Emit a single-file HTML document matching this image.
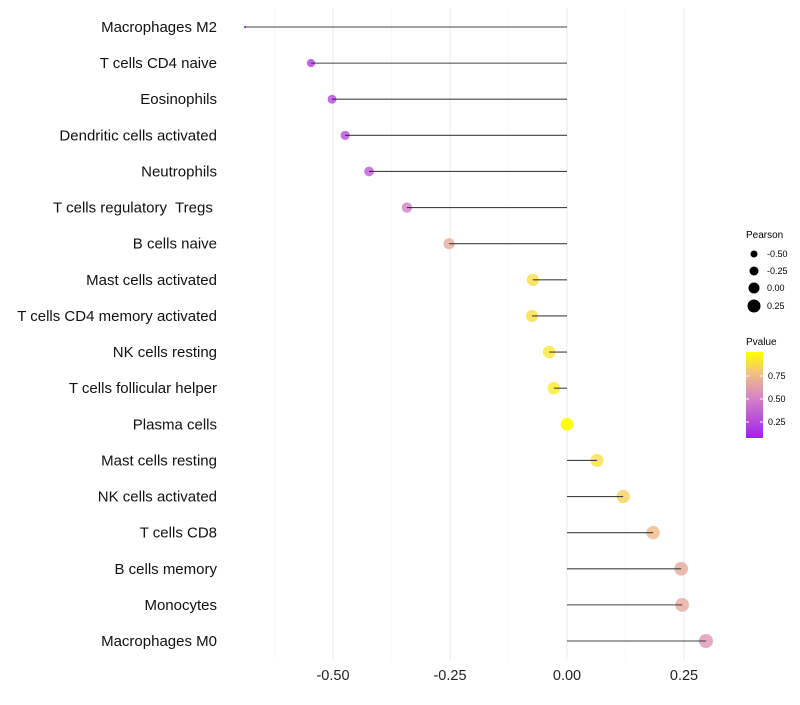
<!DOCTYPE html>
<html><head><meta charset="utf-8"><style>
body{margin:0;background:#fff;font-family:"Liberation Sans",sans-serif}
text{white-space:pre}
</style></head><body>
<svg id="chart" width="800" height="700" xmlns="http://www.w3.org/2000/svg">
<defs><linearGradient id="pg" x1="0" y1="1" x2="0" y2="0">
<stop offset="0" stop-color="#a020f0"/><stop offset="0.5" stop-color="#d98bc0"/><stop offset="0.75" stop-color="#f0c080"/><stop offset="1" stop-color="#ffff00"/></linearGradient></defs>
<g id="grid"></g><g id="points"></g><g id="lines"></g><g id="ylabels"></g><g id="xticks"></g>
<g font-size="9" fill="#000">
<text x="746" y="238" font-size="10">Pearson</text>
<circle cx="754" cy="254" r="3.5"/><text x="767" y="257">-0.50</text>
<circle cx="754" cy="271" r="4.5"/><text x="767" y="274">-0.25</text>
<circle cx="754" cy="288" r="5.5"/><text x="767" y="291">0.00</text>
<circle cx="754" cy="306" r="6.5"/><text x="767" y="309">0.25</text>
</g>
<g font-size="9">
<text x="746" y="345" font-size="10">Pvalue</text>
<rect x="746" y="352" width="17" height="86" fill="url(#pg)"/>
<line x1="746" x2="749" y1="376" y2="376" stroke="#fff"/><line x1="760" x2="763" y1="376" y2="376" stroke="#fff"/>
<line x1="746" x2="749" y1="399" y2="399" stroke="#fff"/><line x1="760" x2="763" y1="399" y2="399" stroke="#fff"/>
<line x1="746" x2="749" y1="422" y2="422" stroke="#fff"/><line x1="760" x2="763" y1="422" y2="422" stroke="#fff"/>
<text x="768" y="379">0.75</text><text x="768" y="402">0.50</text><text x="768" y="425">0.25</text>
</g>
</svg>
<script>
const categories=["Macrophages M2","T cells CD4 naive","Eosinophils","Dendritic cells activated","Neutrophils","T cells regulatory  Tregs ","B cells naive","Mast cells activated","T cells CD4 memory activated","NK cells resting","T cells follicular helper","Plasma cells","Mast cells resting","NK cells activated","T cells CD8","B cells memory","Monocytes","Macrophages M0"];
const pearson=[-0.688,-0.547,-0.502,-0.474,-0.423,-0.342,-0.252,-0.073,-0.075,-0.038,-0.028,0.0,0.064,0.12,0.184,0.244,0.246,0.297];
const pvalue=[0.08,0.2,0.22,0.26,0.3,0.45,0.65,0.87,0.87,0.9,0.93,1.0,0.88,0.82,0.72,0.64,0.64,0.55];
const xTicks=[-0.5,-0.25,0,0.25];
const xTickLabels=["-0.50","-0.25","0.00","0.25"];
const NS="http://www.w3.org/2000/svg";
const x=v=>567+v*468;
const y=i=>27+i*(641-27)/(categories.length-1);
const vmin=Math.min(...pearson), vmax=Math.max(...pearson);
const rad=v=>1.2+5.8*Math.pow((v-vmin)/(vmax-vmin),0.35);
function mix(a,b,t){const p=h=>[1,3,5].map(k=>parseInt(h.substr(k,2),16));const A=p(a),B=p(b);return "rgb("+A.map((c,i)=>Math.round(c+(B[i]-c)*t)).join(",")+")";}
function col(p){const s=[[0.08,"#a020f0"],[0.5,"#d98bc0"],[0.75,"#f0c080"],[1.0,"#ffff00"]];
 if(p<=s[0][0])return s[0][1];for(let i=1;i<s.length;i++){if(p<=s[i][0])return mix(s[i-1][1],s[i][1],(p-s[i-1][0])/(s[i][0]-s[i-1][0]));}return s[3][1];}
function mk(t,at,parent){const e=document.createElementNS(NS,t);for(const k in at)e.setAttribute(k,at[k]);document.getElementById(parent).appendChild(e);return e;}
[-0.625,-0.375,-0.125,0.125].forEach(v=>{const g=mk("line",{x1:x(v),x2:x(v),y1:8,y2:660,stroke:"#f3f3f3","stroke-width":0.6},"grid");

});
xTicks.forEach((v,i)=>{const g=mk("line",{x1:x(v),x2:x(v),y1:8,y2:660,stroke:"#ebebeb","stroke-width":1.1},"grid");


const t=mk("text",{x:x(v),y:680,"text-anchor":"middle","font-size":14.5,fill:"#222"},"xticks");t.textContent=xTickLabels[i];

});
categories.forEach((c,i)=>{
 const cc=mk("circle",{cx:x(pearson[i]),cy:y(i),r:rad(pearson[i]),fill:col(pvalue[i]),"fill-opacity":pvalue[i]>0.97?1:0.8},"points");
 
 
 const l=mk("line",{x1:x(0),x2:x(pearson[i]),y1:y(i),y2:y(i),stroke:"#222","stroke-width":1.1,"stroke-opacity":0.85},"lines");
 
 
 const t=mk("text",{x:217,y:y(i)+5,"text-anchor":"end","font-size":15,fill:"#111"},"ylabels");t.textContent=c;
 
 
});
</script>
</body></html>
